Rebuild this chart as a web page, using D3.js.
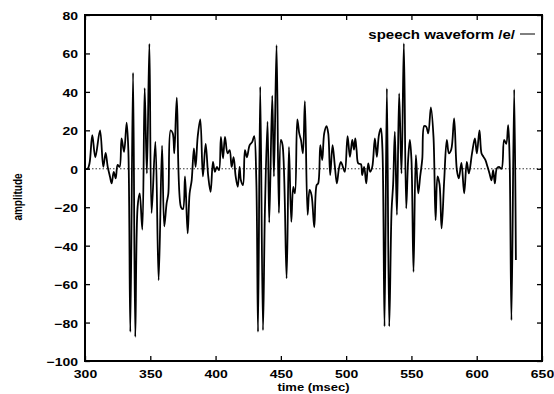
<!DOCTYPE html>
<html>
<head>
<meta charset="utf-8">
<script src="https://cdn.jsdelivr.net/npm/d3@7"></script>
<style>
  body { margin: 0; background: #fff; }
  text { font-family: "Liberation Sans", Arial, Helvetica, sans-serif; font-weight: bold; fill: #000; }
</style>
</head>
<body>
<div id="chart"></div>
<script>
// waveform samples (msec, amplitude)
var timeMs = [
  300, 302, 303.5, 305.6, 307.9, 311.5, 314, 315.8, 317.4, 319.1, 320.4, 322, 323.5, 325, 326.5,
  328, 329.9, 331.9, 333.2, 334.7, 336.8, 338.5, 340.3, 341.9, 343.9, 345.7, 347.4, 349.3, 351,
  353.9, 356.4, 359, 360.7, 362.5, 363.8, 365.6, 367.2, 368.4, 370.3, 373.5, 375, 376.6, 378.6,
  380.1, 381.7, 383.4, 384.7, 386.3, 388.3, 390.3, 392.4, 394.4, 396.2, 398, 399.5, 401, 402.6,
  404.1, 405.7, 407.2, 409.2, 410.8, 412.3, 413.8, 415.4, 417, 418.4, 419.4, 421, 422.5, 424,
  426.1, 428.1, 429.6, 431.2, 432.5, 434.2, 436.3, 437.8, 439.8, 441.1, 443.4, 444.7, 446.7,
  448.5, 450, 451.3, 454.4, 456.2, 458, 459.5, 460.8, 462.6, 464.1, 465.4, 466.9, 468.4, 470.5,
  472, 473.5, 475.6, 477.4, 478.6, 480.2, 481.7, 483.2, 485, 486.3, 487.8, 489.6, 491.4, 492.9,
  494.5, 496, 497.5, 499, 501.1, 502.9, 504.7, 506, 507, 508, 509.3, 511.3, 512.3, 513.8, 515.4,
  516.9, 518.4, 520, 522, 523.5, 525.1, 526.6, 527.8, 529.4, 531.2, 533, 534.8, 536, 537.3, 538.9,
  540.6, 542.4, 544.2, 546, 547.5, 548.8, 550, 551.6, 553.4, 555.2, 556.7, 558.3, 559.8, 561.3,
  562.9, 564.9, 566.9, 568.5, 570, 571.5, 573.1, 575.1, 577.1, 578.7, 580.5, 582.7, 584.8, 586.3,
  588.3, 590.4, 592.4, 594, 596.4, 598.6, 600.1, 602.1, 603.7, 605.2, 606.7, 608.3, 609.8, 611.3,
  612.6, 613.9, 615.4, 617, 619, 621, 622.6, 624.1, 625.2, 626.6, 628.7, 630
];
var amplitude = [
  0, 0, 3, 17.5, 6, 20, 1, 8.3, 1, -4, -7.6, -1.6, -5, 2, 1,
  15.8, 8.8, 24, 9.7, -84.8, 50, -87.4, -19.8, -12.8, -31.6, 42, -2.4, 65, -23,
  14, -58, 12, -30, -18, -13, 20, 18.5, 8, 37, -20, -21, -4, -33.6,
  -13, -6, 10.6, 1, 16.6, 25.7, -4, 13, -4, -12, 3.6, -1.6, 1, -0.7,
  16.6, 5.4, 16.6, 8, 9.7, 1, 6, -4, -9.4, 1, -6, -8.5, 9.7, 6,
  12.3, 14, 17, -6, -84.8, 42.7, -84, -21.5, 24.5, -28, 38, -4, 64.3,
  -23, 15, 12.3, -57, 11.4, -27.6, -9.4, -12.8, 25.7, 18.4, 15, 8, 35.2, -24,
  -11, -13.7, -30.5, -8.5, -7.6, 12.3, 4.5, 18.4, 22.2, 18.4, -3.3, 12.3, 1, -7.6,
  0.2, 3.6, 1, -1.6, 17, 6.2, 15, 10, 15.8, 9.7, 2.8, 2.4, -3.3, 1, -7.6,
  2.8, -1.6, 1, 15.8, 6.2, 17.5, 21, 10, -82, 41.8, -82, -21.5, -8, 19.3, -24,
  39.2, -2.4, 65.2, -20.6, 5, 15, 5, -53.6, 7.1, -12.8, -4, 5, 22.2, 21.9,
  18.4, 31.9, 16.6, -26.7, -4, -8, -31, -6, 15, 8, 10, 26.2, -0.7, -5,
  3, -12.8, 3.6, -2.4, 8, 15.8, 8, 20, 8, 6.2, 4.5, 1, -2.4, -6,
  -0.7, -7.6, 0.2, 1, 0, 15, 13, 22.7, 5, -78.7, 41.3, -47.5
];
var xTicks = [300, 350, 400, 450, 500, 550, 600, 650];
var yTicks = [-100, -80, -60, -40, -20, 0, 20, 40, 60, 80];
var seriesName = "speech waveform /e/";

var svgWidth = 554;
var svgHeight = 394;
var margin = { top: 15, right: 12, bottom: 33, left: 85 };
var width = svgWidth - margin.left - margin.right;
var height = svgHeight - margin.top - margin.bottom;
var squash = "scale(1,0.8)";

var svg = d3.select("#chart").append("svg")
  .attr("width", svgWidth)
  .attr("height", svgHeight);

var chartGroup = svg.append("g")
  .attr("transform", `translate(${margin.left}, ${margin.top})`);

var xScale = d3.scaleLinear().domain([300, 650]).range([0, width]);
var yScale = d3.scaleLinear().domain([-100, 80]).range([height, 0]);

var points = timeMs.map((t, i) => ({ t: t, a: amplitude[i] }));

// zero line
chartGroup.append("line")
  .attr("x1", xScale(300)).attr("x2", xScale(650))
  .attr("y1", yScale(0)).attr("y2", yScale(0))
  .attr("stroke", "#333")
  .attr("stroke-width", 1)
  .attr("stroke-dasharray", "1.5,2");

// waveform
var line = d3.line()
  .x(d => xScale(d.t))
  .y(d => yScale(d.a))
  .curve(d3.curveCatmullRom.alpha(0.5));

chartGroup.append("path")
  .datum(points)
  .attr("d", line)
  .attr("fill", "none")
  .attr("stroke", "#000")
  .attr("stroke-width", 1.8)
  .attr("stroke-linejoin", "round");

// axes, ticks point inward
var bottomAxis = d3.axisBottom(xScale).tickValues(xTicks).tickSizeInner(-5).tickSizeOuter(0).tickPadding(0);
var leftAxis = d3.axisLeft(yScale).tickValues(yTicks).tickSizeInner(-5).tickSizeOuter(0).tickPadding(7);
var topAxis = d3.axisTop(xScale).tickValues(xTicks).tickSizeInner(-5).tickSizeOuter(0).tickFormat("");
var rightAxis = d3.axisRight(yScale).tickValues(yTicks).tickSizeInner(-5).tickSizeOuter(0).tickFormat("");

var xAxisG = chartGroup.append("g").attr("transform", `translate(0, ${height})`).call(bottomAxis);
var yAxisG = chartGroup.append("g").call(leftAxis);
chartGroup.append("g").call(topAxis);
chartGroup.append("g").attr("transform", `translate(${width}, 0)`).call(rightAxis);

chartGroup.selectAll(".domain").remove();
chartGroup.selectAll(".tick line").attr("stroke", "#000").attr("stroke-width", 1.3);

xAxisG.selectAll("text")
  .attr("y", 21).attr("dy", 0)
  .attr("transform", squash)
  .style("font-size", "14px");
yAxisG.selectAll("text")
  .attr("transform", squash)
  .attr("dy", "0.4em")
  .style("font-size", "14px");

// frame
chartGroup.append("rect")
  .attr("width", width).attr("height", height)
  .attr("fill", "none").attr("stroke", "#000").attr("stroke-width", 2);

// axis titles
svg.append("text")
  .attr("transform", `translate(${margin.left + width / 2}, 391) ${squash}`)
  .attr("text-anchor", "middle")
  .style("font-size", "13px")
  .text("time (msec)");

svg.append("text")
  .attr("transform", "translate(22, 197) rotate(-90) scale(0.8,1)")
  .attr("text-anchor", "middle")
  .style("font-size", "12.5px")
  .text("amplitude");

// key
svg.append("text")
  .attr("transform", `translate(515, 39) ${squash}`)
  .attr("text-anchor", "end")
  .style("font-size", "15px")
  .text(seriesName);

svg.append("line")
  .attr("x1", 520).attr("x2", 535)
  .attr("y1", 34).attr("y2", 34)
  .attr("stroke", "#000").attr("stroke-width", 1);
</script>
</body>
</html>
